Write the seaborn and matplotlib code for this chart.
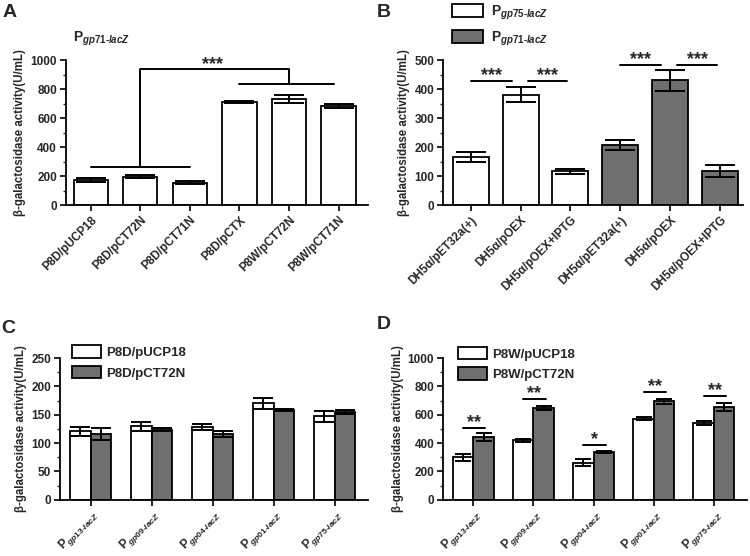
import pandas as pd
import seaborn as sns
import matplotlib.pyplot as plt
from matplotlib.patches import Patch
from matplotlib.container import BarContainer
from matplotlib.ticker import MultipleLocator, AutoMinorLocator

sns.set_style("ticks")
plt.rcParams["font.family"] = ["Liberation Sans", "DejaVu Sans"]
plt.rcParams["font.weight"] = "bold"
plt.rcParams["axes.labelweight"] = "bold"
plt.rcParams["mathtext.fontset"] = "custom"
plt.rcParams["mathtext.rm"] = "Liberation Sans:bold"
plt.rcParams["mathtext.it"] = "Liberation Sans:italic:bold"
plt.rcParams["mathtext.bf"] = "Liberation Sans:bold"

# ---- data ------------------------------------------------------------------
# panel A (P_gp71-lacZ)
a_strains = ["P8D/pUCP18", "P8D/pCT72N", "P8D/pCT71N", "P8D/pCTX", "P8W/pCT72N", "P8W/pCT71N"]
a_mean = [173, 197, 156, 711, 734, 682]
a_err = [15, 8, 11, 9, 27, 15]

# panel B
b_labels = ["DH5α/pET32a(+)", "DH5α/pOEX", "DH5α/pOEX+IPTG"] * 2
b_promoter = ["gp75"] * 3 + ["gp71"] * 3
b_mean = [166, 381, 116, 206, 431, 118]
b_err = [18, 25, 10, 17, 36, 22]

# panels C and D
promoters = ["gp13", "gp09", "gp04", "gp01", "gp75"]
c_pucp = [121, 130, 128, 170, 147]
c_pucp_err = [8, 8, 5, 9, 9]
c_pct = [116, 124, 116, 159, 155]
c_pct_err = [10, 2, 6, 2, 4]

d_pucp = [299, 420, 262, 573, 543]
d_pucp_err = [23, 12, 23, 13, 12]
d_pct = [443, 650, 336, 694, 657]
d_pct_err = [26, 14, 9, 16, 28]
d_stars = ["**", "**", "*", "**", "**"]
d_star_y = [508, 710, 390, 763, 733]

WHITE = "white"
GRAY = "#6f6f6f"
LW = 1.3
YLABEL = "β-galactosidase activity(U/mL)"


def prom(name):
    return r"$\mathrm{P}_{\mathit{" + name + r"\text{-}lacZ}}$"


def draw_errors(ax, errs, capsize):
    bars = [c for c in ax.containers if isinstance(c, BarContainer)]
    for ci, cont in enumerate(bars):
        for bar in cont:
            x = bar.get_x() + bar.get_width() / 2
            h = bar.get_height()
            e = errs[ci][int(round(x))]
            ax.errorbar(x, h, yerr=e, fmt="none", ecolor="black", elinewidth=1.4,
                        capsize=capsize, capthick=1.4, zorder=4)


def stars(ax, x, y, s):
    ax.annotate(s, (x, y), xytext=(0, -1), textcoords="offset points", ha="center",
                va="baseline", fontsize=13, fontweight="bold", annotation_clip=False)


def style(ax, step, top, xlim):
    ax.set_ylim(0, top)
    ax.set_xlim(*xlim)
    ax.yaxis.set_major_locator(MultipleLocator(step))
    ax.yaxis.set_minor_locator(AutoMinorLocator(2))
    ax.tick_params(axis="both", which="major", direction="out", length=4, width=1.2,
                   labelsize=8.5, color="black", pad=2.5)
    ax.tick_params(axis="y", which="minor", direction="out", length=2.5, width=1)
    sns.despine(ax=ax)
    for sp in ("left", "bottom"):
        ax.spines[sp].set_linewidth(1.3)
        ax.spines[sp].set_color("black")
    ax.set_xlabel("")
    ax.set_ylabel(YLABEL, fontsize=8.3, fontweight="bold", labelpad=3)
    for t in ax.get_yticklabels():
        t.set_fontweight("bold")


fig = plt.figure(figsize=(7.5, 5.56), dpi=100)
axA = fig.add_axes([0.088, 0.631, 0.403, 0.261])
axB = fig.add_axes([0.591, 0.631, 0.399, 0.261])
axC = fig.add_axes([0.080, 0.101, 0.411, 0.255])
axD = fig.add_axes([0.591, 0.101, 0.405, 0.255])

# ---- A -----------------------------------------------------------------------
dfA = pd.DataFrame({"strain": a_strains, "activity": a_mean})
sns.barplot(data=dfA, x="strain", y="activity", color=WHITE, saturation=1, width=0.69,
            edgecolor="black", linewidth=LW, errorbar=None, ax=axA)
draw_errors(axA, [a_err], 11)
style(axA, 200, 1000, (-0.5, 5.6))
axA.set_xticks(range(len(a_strains)))
axA.set_xticklabels(a_strains, rotation=45, ha="right", rotation_mode="anchor",
                    fontsize=8.5, fontweight="bold")
line = dict(color="black", lw=1.4, clip_on=False)
axA.plot([0, 2], [262, 262], **line)
axA.plot([3, 4.9], [832, 832], **line)
axA.plot([1, 1, 4, 4], [262, 936, 936, 832], **line)
stars(axA, 2.46, 950, "***")
axA.text(-0.35, 1130, prom("gp71"), fontsize=10)

# ---- B -----------------------------------------------------------------------
dfB = pd.DataFrame({"sample": [f"{l}|{i}" for i, l in enumerate(b_labels)],
                    "promoter": b_promoter, "activity": b_mean})
sns.barplot(data=dfB, x="sample", y="activity", hue="promoter", dodge=False,
            palette={"gp75": WHITE, "gp71": GRAY}, saturation=1, width=0.72,
            edgecolor="black", linewidth=LW, errorbar=None, legend=False, ax=axB)
draw_errors(axB, [b_err, b_err], 11)
style(axB, 100, 500, (-0.55, 5.45))
axB.set_xticks(range(len(b_labels)))
axB.set_xticklabels(b_labels, rotation=45, ha="right", rotation_mode="anchor",
                    fontsize=8.5, fontweight="bold")
for x0, x1, y in [(0, 0.82, 429), (1.14, 1.94, 429), (3, 3.82, 484), (4.14, 4.94, 484)]:
    axB.plot([x0, x1], [y, y], **line)
    stars(axB, (x0 + x1) / 2, y + 8, "***")
handles = [Patch(facecolor=WHITE, edgecolor="black", lw=LW),
           Patch(facecolor=GRAY, edgecolor="black", lw=LW)]
axB.legend(handles, [prom("gp75"), prom("gp71")], loc="upper left",
           bbox_to_anchor=(0.03, 1.39), frameon=False, borderpad=0, borderaxespad=0,
           handlelength=2.2, handleheight=1.05, labelspacing=0.55, handletextpad=0.6,
           fontsize=10)


# ---- C and D -----------------------------------------------------------------
def grouped(ax, strains, v1, e1, v2, e2, top, step, capsize):
    df = pd.DataFrame({"promoter": promoters * 2,
                       "strain": [strains[0]] * 5 + [strains[1]] * 5,
                       "activity": v1 + v2})
    sns.barplot(data=df, x="promoter", y="activity", hue="strain",
                palette=[WHITE, GRAY], saturation=1, width=0.68, edgecolor="black",
                linewidth=LW, errorbar=None, legend=False, ax=ax)
    draw_errors(ax, [e1, e2], capsize)
    style(ax, step, top, (-0.5, 4.55))
    ax.tick_params(axis="x", pad=0.5)
    ax.set_xticks(range(len(promoters)))
    ax.set_xticklabels([prom(p) for p in promoters], rotation=45, ha="right",
                       rotation_mode="anchor", fontsize=8.7)
    hs = [Patch(facecolor=WHITE, edgecolor="black", lw=LW),
          Patch(facecolor=GRAY, edgecolor="black", lw=LW)]
    return hs


hs = grouped(axC, ["P8D/pUCP18", "P8D/pCT72N"], c_pucp, c_pucp_err, c_pct, c_pct_err, 250, 50, 7)
axC.legend(hs, ["P8D/pUCP18", "P8D/pCT72N"], loc="upper left", bbox_to_anchor=(0.04, 1.09),
           frameon=False, borderpad=0, borderaxespad=0, handlelength=2.2, handleheight=1.1,
           labelspacing=0.5, handletextpad=0.35, prop={"size": 9.5, "weight": "bold"})

hs = grouped(axD, ["P8W/pUCP18", "P8W/pCT72N"], d_pucp, d_pucp_err, d_pct, d_pct_err, 1000, 200, 5.5)
axD.legend(hs, ["P8W/pUCP18", "P8W/pCT72N"], loc="upper left", bbox_to_anchor=(0.05, 1.08),
           frameon=False, borderpad=0, borderaxespad=0, handlelength=2.2, handleheight=1.1,
           labelspacing=0.5, handletextpad=0.35, prop={"size": 9.5, "weight": "bold"})
for g, (s, y) in enumerate(zip(d_stars, d_star_y)):
    axD.plot([g - 0.17, g + 0.2], [y, y], **line)
    stars(axD, g + 0.015, y + 16, s)

# panel letters
for x, y, s in [(0.004, 0.992, "A"), (0.503, 0.992, "B"), (0.002, 0.425, "C"), (0.503, 0.432, "D")]:
    fig.text(x, y, s, fontsize=14, fontweight="bold", va="top", ha="left")

fig.savefig("out.png", dpi=100)
